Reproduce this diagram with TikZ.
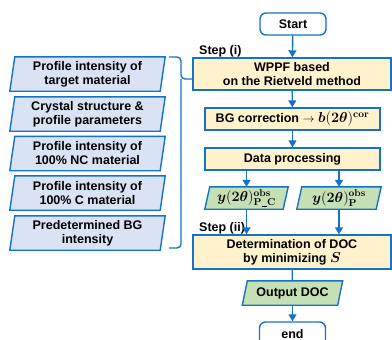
\documentclass[tikz,border=0pt]{standalone}
\usepackage{amsmath,amssymb}
\usepackage[no-math]{fontspec}
\setmainfont{Liberation Sans}
\usetikzlibrary{arrows.meta,backgrounds,calc}
\definecolor{bord}{RGB}{20,115,200}
\definecolor{bluefill}{RGB}{218,227,243}
\definecolor{yellowfill}{RGB}{255,242,204}
\definecolor{greenfill}{RGB}{197,224,180}
\tikzset{
  txt/.style={align=center, inner sep=0pt, font=\fontsize{12.5}{14}\selectfont\bfseries},
  rbox/.style={txt, draw=bord, line width=1.4pt},
  pbox/.style={txt},
  ln/.style={draw=bord, line width=1.4pt},
  arr/.style={ln, -{Triangle[length=7pt,width=8pt]}},
}
\newcommand\drawpara[3]{%
  \draw[ln, fill=#2] ([xshift=#3]#1.north west) -- (#1.north east) -- ([xshift=-#3]#1.south east) -- (#1.south west) -- cycle;}
\newcommand\ysym{\boldsymbol{y}(\mathbf{2}\boldsymbol{\theta})}
\newcommand\undsc{\rule[-0.15ex]{0.4em}{0.08ex}}
\newcommand\mathsz{\fontsize{14}{14}\selectfont}
\begin{document}
\begin{tikzpicture}[x=1pt,y=-1pt]
\useasboundingbox (0,0) rectangle (392,340);
% left inputs
\node[pbox, minimum width=155pt, minimum height=34pt] (in1) at (87.5,74) {Profile intensity of\\target material};
\node[pbox, minimum width=155pt, minimum height=34pt] (in2) at (87.5,114) {Crystal structure \&\\profile parameters};
\node[pbox, minimum width=155pt, minimum height=34pt] (in3) at (87.5,153.5) {Profile intensity of\\100\% NC material};
\node[pbox, minimum width=155pt, minimum height=34pt] (in4) at (87.5,193) {Profile intensity of\\100\% C material};
\node[pbox, minimum width=155pt, minimum height=34pt] (in5) at (87.5,233) {Predetermined BG\\intensity};
% right flow
\node[rbox, rounded corners=6pt, fill=white, minimum width=66pt, minimum height=22pt] (start) at (293,24) {Start};
\node[rbox, fill=yellowfill, minimum width=198pt, minimum height=32pt] (wppf) at (292,74) {WPPF based\\on the Rietveld method};
\node[rbox, fill=yellowfill, minimum width=175pt, minimum height=22pt] (bg) at (292.5,119) {BG correction $\rightarrow$ {\mathsz$\boldsymbol{b}(\mathbf{2}\boldsymbol{\theta})^{\mathbf{cor}}$}};
\node[rbox, fill=yellowfill, minimum width=175pt, minimum height=22pt] (data) at (292.5,159) {Data processing};
\node[pbox, minimum width=83pt, minimum height=22pt] (gl) at (246.5,198) {\mathsz$\ysym^{\mathbf{obs}}_{\mathbf{P}\undsc\mathbf{C}}$};
\node[pbox, minimum width=84pt, minimum height=22pt] (gr) at (339,198) {\mathsz$\ysym^{\mathbf{obs}}_{\mathbf{P}}$};
\node[rbox, fill=yellowfill, minimum width=198pt, minimum height=34pt] (det) at (292,252) {Determination of DOC\\by minimizing {\mathsz$\boldsymbol{S}$}};
\node[pbox, minimum width=100pt, minimum height=24pt] (out) at (292.5,293) {Output DOC};
\node[rbox, rounded corners=6pt, fill=white, minimum width=66pt, minimum height=24pt] (end) at (292.5,334) {end};
\node[txt, anchor=base west] (s1) at (199,55) {Step (i)};
\node[txt, anchor=base west] (s2) at (199,231) {Step (ii)};
\begin{pgfonlayer}{background}
\drawpara{in1}{bluefill}{5pt}
\drawpara{in2}{bluefill}{5pt}
\drawpara{in3}{bluefill}{5pt}
\drawpara{in4}{bluefill}{5pt}
\drawpara{in5}{bluefill}{5pt}
\drawpara{gl}{greenfill}{5pt}
\drawpara{gr}{greenfill}{5pt}
\drawpara{out}{greenfill}{5pt}
\end{pgfonlayer}
% connectors
\draw[arr] (start) -- (wppf);
\draw[arr] (wppf) -- (bg);
\draw[arr] (bg) -- (data);
\draw[arr] (data.south -| gl) -- (gl);
\draw[arr] (data.south -| gr) -- (gr);
\draw[arr] (gl) -- (gl |- det.north);
\draw[arr] (gr) -- (gr |- det.north);
\draw[ln] (det) -- (out);
\draw[arr] (out) -- (end);
% brace
\coordinate (bt) at (169,57);
\coordinate (bb) at (169,248);
\coordinate (tip) at (181,79);
\draw[ln, rounded corners=4pt] (bt) -- (bt -| tip) -- (tip) -- (tip -| wppf.west);
\draw[ln, rounded corners=4pt] (tip) -- (bb -| tip) -- (bb);
\end{tikzpicture}
\end{document}
